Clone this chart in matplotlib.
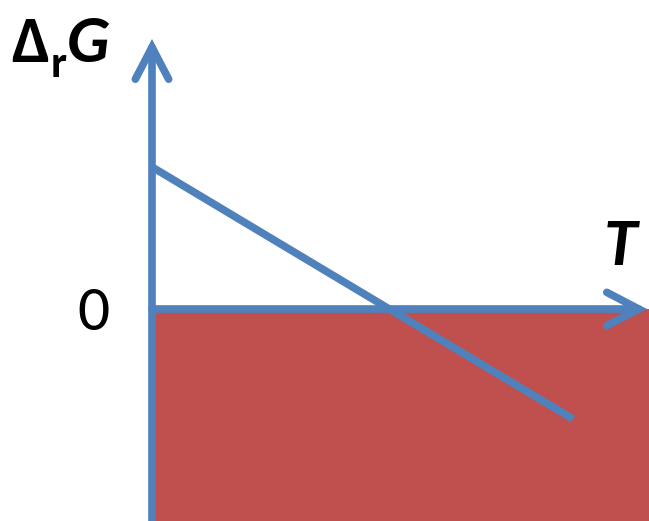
import matplotlib
matplotlib.use("Agg")
import matplotlib.pyplot as plt
from matplotlib import font_manager

# data (arbitrary units, origin where the axes cross)
line_T = [0.0, 4.21]
line_dG = [1.42, -1.10]
T_max = 4.95        # tip of the T arrow
dG_top = 2.70       # tip of the dG arrow
dG_bottom = -2.12   # bottom edge
fill_T_right = 4.97

blue = "#4F81BD"
red = "#C0504D"
W, H = 649, 521

# Calibri-like font if there is one
names = {f.name for f in font_manager.fontManager.ttflist}
cap_ratio = {"Carlito": 0.644, "Calibri": 0.644, "Lato": 0.72, "Open Sans": 0.714}
main_font = next(n for n in cap_ratio if n in names or n == "Open Sans")
# pixel cap height 43 -> font size in points
big = 43 / cap_ratio[main_font] * 0.72
small = big * 0.68

fig = plt.figure(figsize=(W / 100, H / 100), dpi=100)
ax = fig.add_axes([0, 0, 1, 1])
ax.set_xlim(-1.52, 4.97)
ax.set_ylim(-2.12, 3.09)
ax.axis("off")

# red region below zero
ax.fill_between([0, fill_T_right], dG_bottom, 0, color=red, lw=0, zorder=1)

# diagonal line
ax.plot(line_T, line_dG, color=blue, lw=5.5, solid_capstyle="butt", zorder=3)

arrow_kw = dict(arrowstyle="->,head_length=23,head_width=12", color=blue,
                lw=5.5, mutation_scale=1, shrinkA=0, shrinkB=0,
                capstyle="round", joinstyle="miter")
# y axis
ax.annotate("", xy=(0, dG_top), xytext=(0, dG_bottom), arrowprops=arrow_kw,
            zorder=4)
# x axis
ax.annotate("", xy=(T_max, 0), xytext=(0, 0), arrowprops=arrow_kw, zorder=4)

fam = [main_font, "DejaVu Sans"]
fig.text(11 / W, 1 - 62 / H, "Δ", fontsize=big, fontweight="bold",
         family=fam, va="baseline", ha="left")
fig.text(51 / W, 1 - 77 / H, "r", fontsize=small, fontweight="bold",
         family=fam, va="baseline", ha="left")
fig.text(67 / W, 1 - 62 / H, "G", fontsize=big, fontweight="bold",
         style="italic", family=fam, va="baseline", ha="left")
fig.text(604 / W, 1 - 265 / H, "T", fontsize=big, fontweight="bold",
         style="italic", family=fam, va="baseline", ha="left")
fig.text(77 / W, 1 - 330 / H, "0", fontsize=big * 0.95, family=fam,
         va="baseline", ha="left")

fig.savefig("out.png", dpi=100)
